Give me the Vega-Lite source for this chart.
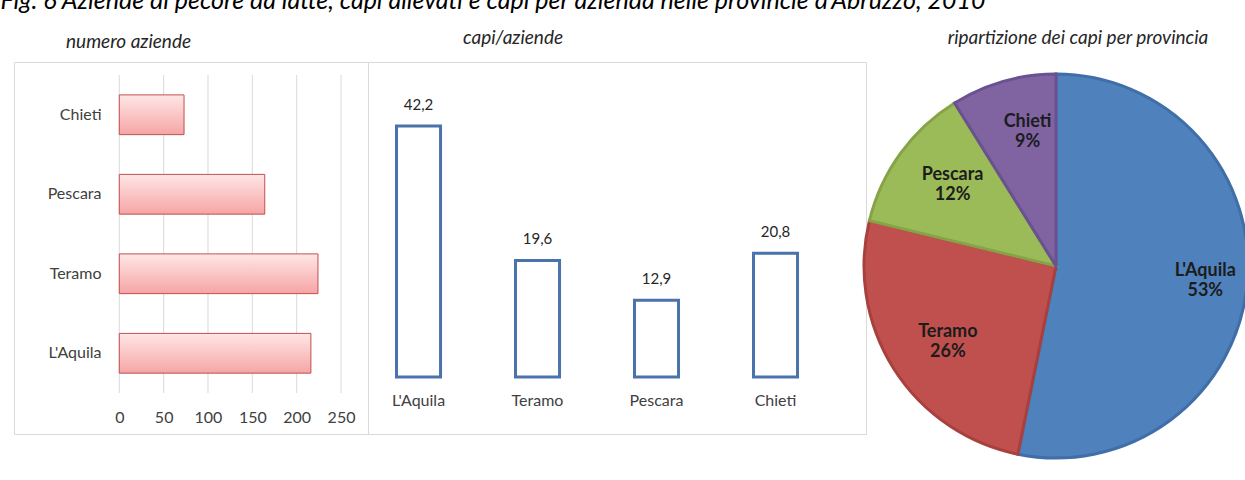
{
  "$schema": "https://vega.github.io/schema/vega-lite/v6.json",
  "background": "white",
  "padding": {"left": 0, "top": -12, "right": 0, "bottom": 0},
  "bounds": "flush",
  "spacing": 0,
  "title": {
    "text": "Fig. 6  Aziende di pecore da latte, capi allevati e capi per azienda nelle provincie d'Abruzzo, 2010",
    "anchor": "start", "font": "Lato", "fontStyle": "italic", "fontWeight": "normal",
    "fontSize": 25, "color": "#000000", "dx": -13, "offset": 15
  },
  "datasets": {
    "province": [
      {"provincia": "L'Aquila", "n": 1, "aziende": 216, "capi_azienda": 42.2, "etichetta": "42,2", "capi": 9115, "quota": "L'Aquila\n53%"},
      {"provincia": "Teramo", "n": 2, "aziende": 224, "capi_azienda": 19.6, "etichetta": "19,6", "capi": 4390, "quota": "Teramo\n26%"},
      {"provincia": "Pescara", "n": 3, "aziende": 164, "capi_azienda": 12.9, "etichetta": "12,9", "capi": 2116, "quota": "Pescara\n12%"},
      {"provincia": "Chieti", "n": 4, "aziende": 73, "capi_azienda": 20.8, "etichetta": "20,8", "capi": 1518, "quota": "Chieti\n9%"}
    ],
    "griglia": [{"v": 0}, {"v": 50}, {"v": 100}, {"v": 150}, {"v": 200}, {"v": 250}]
  },
  "config": {
    "font": "Lato",
    "view": {"stroke": "#d9d9d9", "strokeWidth": 1}
  },
  "hconcat": [
    {
      "width": 354, "height": 372,
      "title": {"text": "numero aziende", "anchor": "start", "dx": 52, "font": "Lato", "fontStyle": "italic", "fontWeight": "normal", "fontSize": 19, "color": "#262626", "offset": 10},
      "layer": [
        {
          "data": {"name": "griglia"},
          "mark": {"type": "rule", "color": "#d9d9d9", "strokeWidth": 1},
          "encoding": {
            "x": {"field": "v", "type": "quantitative"},
            "y": {"datum": "Chieti", "bandPosition": 0},
            "y2": {"datum": "L'Aquila", "bandPosition": 1}
          }
        },
        {
          "data": {"name": "province"},
          "mark": {
            "type": "bar", "height": {"band": 0.5},
            "fill": {"gradient": "linear", "x1": 0, "y1": 0, "x2": 0, "y2": 1,
              "stops": [{"offset": 0, "color": "#ffe6e6"}, {"offset": 1, "color": "#f6a5a5"}]},
            "stroke": "#c0504d", "strokeWidth": 1
          },
          "encoding": {
            "x": {"field": "aziende", "type": "quantitative",
              "scale": {"domain": [-118.7, 280.4], "nice": false, "zero": false},
              "axis": {"values": [0, 50, 100, 150, 200, 250], "title": null, "grid": false, "ticks": false, "domain": false,
                "offset": -27, "labelPadding": 2, "labelFontSize": 16, "labelColor": "#404040", "labelFont": "Lato"}},
            "x2": {"datum": 0},
            "y": {"field": "provincia", "type": "nominal", "sort": ["Chieti", "Pescara", "Teramo", "L'Aquila"],
              "scale": {"paddingInner": 0, "paddingOuter": 0.3396, "align": 0.241},
              "axis": {"title": null, "ticks": false, "domain": false, "offset": -105, "labelPadding": 18,
                "labelFontSize": 16, "labelColor": "#404040", "labelFont": "Lato"}}
          }
        }
      ]
    },
    {
      "width": 498, "height": 372,
      "title": {"text": "capi/aziende", "anchor": "middle", "dx": -104, "font": "Lato", "fontStyle": "italic", "fontWeight": "normal", "fontSize": 19, "color": "#262626", "offset": 14},
      "data": {"name": "province"},
      "encoding": {
        "x": {"field": "provincia", "type": "nominal", "sort": ["L'Aquila", "Teramo", "Pescara", "Chieti"],
          "scale": {"paddingInner": 0.63, "paddingOuter": 0.4075, "align": 0.294},
          "axis": {"title": null, "orient": "bottom", "offset": -42, "labelPadding": 0, "ticks": false, "domain": false,
            "labelAngle": 0, "labelDx": 11, "labelFontSize": 16, "labelColor": "#404040", "labelFont": "Lato"}},
        "y": {"field": "capi_azienda", "type": "quantitative",
          "scale": {"domain": [-9.58, 52.96], "nice": false, "zero": false}, "axis": null}
      },
      "layer": [
        {"mark": {"type": "bar", "fill": "white", "stroke": "#4a72ab", "strokeWidth": 3}, "encoding": {"y2": {"datum": 0}}},
        {"mark": {"type": "text", "dy": -21, "fontSize": 15, "color": "#262626", "font": "Lato"}, "encoding": {"text": {"field": "etichetta"}}}
      ]
    },
    {
      "width": 380, "height": 408,
      "view": {"stroke": null},
      "title": {"text": "ripartizione dei capi per provincia", "anchor": "middle", "dx": 22, "font": "Lato", "fontStyle": "italic", "fontWeight": "normal", "fontSize": 19, "color": "#262626", "offset": 14},
      "data": {"name": "province"},
      "encoding": {
        "theta": {"field": "capi", "type": "quantitative", "stack": true},
        "order": {"field": "n", "type": "quantitative"}
      },
      "layer": [
        {
          "mark": {"type": "arc", "radius": 192, "strokeWidth": 3},
          "encoding": {
            "fill": {"field": "provincia", "type": "nominal", "legend": null,
              "scale": {"domain": ["L'Aquila", "Teramo", "Pescara", "Chieti"], "range": ["#4f81bd", "#c0504d", "#9bbb59", "#8064a2"]}},
            "stroke": {"field": "provincia", "type": "nominal", "legend": null,
              "scale": {"domain": ["L'Aquila", "Teramo", "Pescara", "Chieti"], "range": ["#3f6ea8", "#a8403d", "#86a447", "#6a5190"]}}
          }
        },
        {
          "mark": {"type": "text", "radius": 140, "dx": 10, "dy": -9, "fontWeight": "bold", "fontSize": 18, "lineBreak": "\n", "color": "#1c1c1c", "font": "Lato"},
          "encoding": {
            "text": {"field": "quota"},
            "detail": {"field": "provincia"}
          }
        }
      ]
    }
  ]
}
